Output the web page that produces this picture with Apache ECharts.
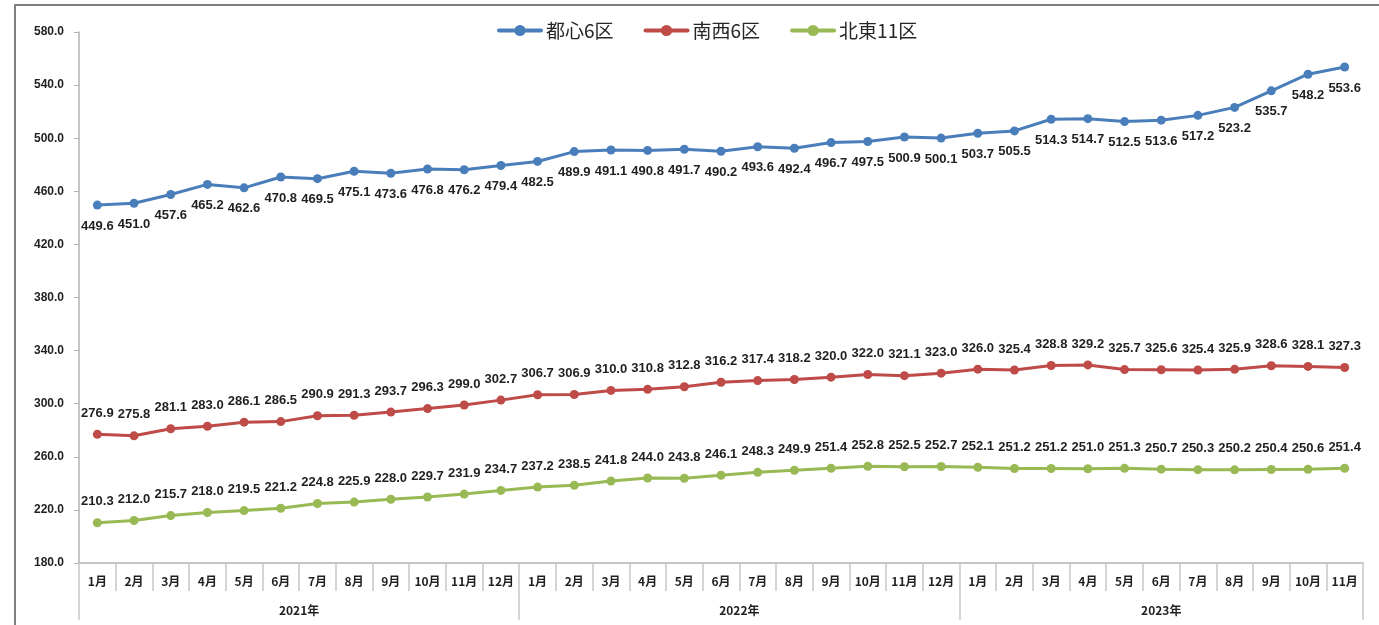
<!DOCTYPE html>
<html>
<head>
<meta charset="utf-8">
<script src="https://cdn.jsdelivr.net/npm/echarts@6/dist/echarts.min.js"></script>
<style>
	html, body { margin: 0; padding: 0; background: #fff; }
	#wrap { position: relative; width: 1379px; height: 625px; }
	#frame { position: absolute; left: 14px; top: 4px; right: 0; bottom: 0; border-left: 2px solid #7f7f7f; border-top: 2px solid #7f7f7f; pointer-events: none; }
	#chart { position: absolute; left: 0; top: 0; width: 1379px; height: 625px; }
</style>
</head>
<body>
<div id="wrap">
	<div id="chart"></div>
	<div id="frame"></div>
</div>
<script>
var months = ["1月","2月","3月","4月","5月","6月","7月","8月","9月","10月","11月","12月",
	"1月","2月","3月","4月","5月","6月","7月","8月","9月","10月","11月","12月",
	"1月","2月","3月","4月","5月","6月","7月","8月","9月","10月","11月"];
var years = ["2021年", "2022年", "2023年"];
var yearBounds = [0, 12, 24, 35];
var yTicks = [180, 580, 40];

var toshin = [449.6, 451.0, 457.6, 465.2, 462.6, 470.8, 469.5, 475.1, 473.6, 476.8, 476.2, 479.4,
	482.5, 489.9, 491.1, 490.8, 491.7, 490.2, 493.6, 492.4, 496.7, 497.5, 500.9, 500.1,
	503.7, 505.5, 514.3, 514.7, 512.5, 513.6, 517.2, 523.2, 535.7, 548.2, 553.6];
var nansei = [276.9, 275.8, 281.1, 283.0, 286.1, 286.5, 290.9, 291.3, 293.7, 296.3, 299.0, 302.7,
	306.7, 306.9, 310.0, 310.8, 312.8, 316.2, 317.4, 318.2, 320.0, 322.0, 321.1, 323.0,
	326.0, 325.4, 328.8, 329.2, 325.7, 325.6, 325.4, 325.9, 328.6, 328.1, 327.3];
var hokuto = [210.3, 212.0, 215.7, 218.0, 219.5, 221.2, 224.8, 225.9, 228.0, 229.7, 231.9, 234.7,
	237.2, 238.5, 241.8, 244.0, 243.8, 246.1, 248.3, 249.9, 251.4, 252.8, 252.5, 252.7,
	252.1, 251.2, 251.2, 251.0, 251.3, 250.7, 250.3, 250.2, 250.4, 250.6, 251.4];

var numFont = '"Liberation Sans", Arial, sans-serif';
var cjkFont = '"Noto Sans CJK JP", "Liberation Sans", sans-serif';

function mk(name, data, color, pos) {
	return {
		name: name,
		type: "line",
		data: data,
		symbol: "circle",
		symbolSize: 9,
		lineStyle: { color: color, width: 3 },
		itemStyle: { color: color },
		label: {
			show: true,
			position: pos,
			distance: 10,
			color: "#1f1f1f",
			fontFamily: numFont,
			fontWeight: "bold",
			fontSize: 13,
			formatter: function(p) { return p.value.toFixed(1); }
		},
		z: 3
	};
}

// year centres on the value axis
var yearMid = [];
for (var k = 0; k < years.length; k++) yearMid.push((yearBounds[k] + yearBounds[k + 1]) / 2);

var chart = echarts.init(document.getElementById("chart"));
chart.setOption({
	animation: false,
	legend: {
		top: 16,
		left: 492,
		itemWidth: 42,
		itemHeight: 14,
		itemGap: 30,
		lineStyle: { width: 4, cap: "round" },
		textStyle: { fontSize: 19, color: "#262626", fontFamily: cjkFont },
		data: ["都心6区", "南西6区", "北東11区"]
	},
	grid: { left: 79, right: 16, top: 32, bottom: 62, containLabel: false },
	xAxis: [{
		type: "category",
		data: months,
		boundaryGap: true,
		axisLine: { lineStyle: { color: "#b3b3b3", width: 1.5 } },
		axisTick: { show: true, length: 28, lineStyle: { color: "#c8c8c8", width: 1.5 } },
		axisLabel: { interval: 0, margin: 12, color: "#1f1f1f", fontSize: 12, fontWeight: "bold", fontFamily: cjkFont }
	}, {
		type: "value",
		position: "bottom",
		offset: 28,
		min: 0,
		max: 35,
		axisLine: { show: false },
		splitLine: { show: false },
		axisTick: { show: true, customValues: yearBounds, length: 29, lineStyle: { color: "#c8c8c8", width: 1.5 } },
		axisLabel: {
			customValues: yearMid,
			margin: 13,
			color: "#1f1f1f",
			fontSize: 12,
			fontWeight: "bold",
			fontFamily: cjkFont,
			formatter: function(v) {
				var i = yearMid.indexOf(v);
				return i >= 0 ? years[i] : "";
			}
		}
	}],
	yAxis: {
		type: "value",
		min: yTicks[0],
		max: yTicks[1],
		interval: yTicks[2],
		axisLine: { show: true, lineStyle: { color: "#b3b3b3", width: 1.5 } },
		axisTick: { show: true, length: 5, lineStyle: { color: "#b3b3b3" } },
		splitLine: { show: false },
		axisLabel: {
			margin: 15,
			color: "#1f1f1f",
			fontSize: 12,
			fontWeight: "bold",
			fontFamily: numFont,
			formatter: function(v) { return v.toFixed(1); }
		}
	},
	series: [
		mk("都心6区", toshin, "#4a7ebb", "bottom"),
		mk("南西6区", nansei, "#be4b48", "top"),
		mk("北東11区", hokuto, "#98b954", "top")
	]
});
</script>
</body>
</html>
